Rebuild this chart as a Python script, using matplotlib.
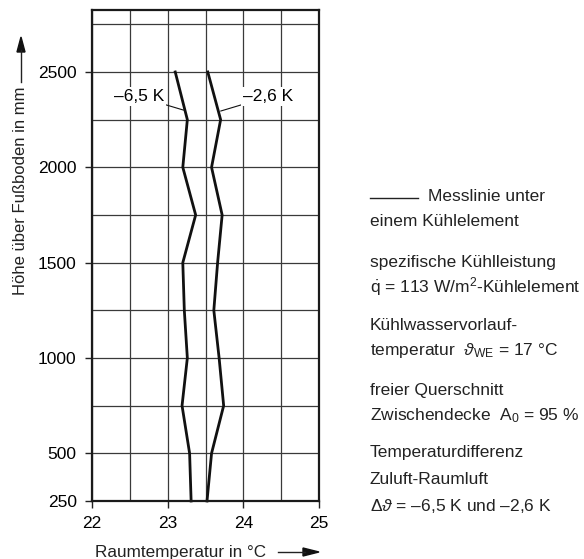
import numpy as np
import matplotlib.pyplot as plt
from matplotlib.ticker import MultipleLocator

plt.rcParams["font.family"] = ["Liberation Sans", "DejaVu Sans"]
plt.rcParams["mathtext.fontset"] = "custom"
plt.rcParams["mathtext.rm"] = "Liberation Sans"
plt.rcParams["mathtext.it"] = "Liberation Sans:italic"

# Messwerte
hoehe = [250, 500, 750, 1000, 1250, 1500, 1750, 2000, 2250, 2500]
t_65 = [23.31, 23.29, 23.19, 23.26, 23.22, 23.20, 23.37, 23.20, 23.26, 23.10]
t_26 = [23.52, 23.58, 23.74, 23.68, 23.61, 23.66, 23.72, 23.58, 23.70, 23.53]
xticks = [22, 23, 24, 25]
yticks = [250, 500, 1000, 1500, 2000, 2500]

W, H = 584, 559
fig = plt.figure(figsize=(W/100, H/100), dpi=100)
ax = fig.add_axes([92/W, (H-501)/H, 227/W, 491/H])

ax.set_xlim(22, 25)
ax.set_ylim(250, 2825)
ax.xaxis.set_minor_locator(MultipleLocator(0.5))
ax.yaxis.set_minor_locator(MultipleLocator(250))
ax.set_xticks(xticks)
ax.set_yticks(yticks)
ax.grid(which="both", color="#3a3a3a", lw=0.9)
ax.tick_params(which="minor", length=0)
ax.tick_params(which="major", length=5, width=1, labelsize=12.5, pad=6, color="#222")
for s in ax.spines.values():
    s.set_linewidth(1.6)
    s.set_color("#1a1a1a")
ax.set_axisbelow(True)

ax.plot(t_65, hoehe, color="#111", lw=2, clip_on=False)
ax.plot(t_26, hoehe, color="#111", lw=2, clip_on=False)

box = dict(facecolor="white", edgecolor="none", pad=1.5)
ax.annotate("–6,5 K", xy=(23.21, 2300), xytext=(22.62, 2370), fontsize=12.5,
            ha="center", va="center", bbox=box,
            arrowprops=dict(arrowstyle="-", lw=0.8, color="#111", shrinkA=0, shrinkB=0))
ax.annotate("–2,6 K", xy=(23.70, 2295), xytext=(24.33, 2370), fontsize=12.5,
            ha="center", va="center", bbox=box,
            arrowprops=dict(arrowstyle="-", lw=0.8, color="#111", shrinkA=0, shrinkB=0))

# Achsenbeschriftungen mit Pfeilen
fig.text(21/W, 1-191/H, "Höhe über Fußboden in mm", rotation=90, ha="center",
         va="center", fontsize=12, color="#222")
fig.add_artist(plt.Line2D([21/W, 21/W], [1-82/H, 1-50/H], color="#222", lw=1))
fig.patches.append(plt.Polygon([[21/W, 1-37/H], [17/W, 1-52/H], [25/W, 1-52/H]],
                               closed=True, color="#111", transform=fig.transFigure))
fig.text(181/W, 1-552/H, "Raumtemperatur in °C", ha="center", va="center",
         fontsize=12.3, color="#222")
fig.add_artist(plt.Line2D([278/W, 305/W], [1-552/H, 1-552/H], color="#222", lw=1))
fig.patches.append(plt.Polygon([[319/W, 1-552/H], [303/W, 1-548/H], [303/W, 1-556/H]],
                               closed=True, color="#111", transform=fig.transFigure))

# Legende / Randbedingungen
fs = 12.5
x0 = 370/W
fig.add_artist(plt.Line2D([x0, 418/W], [1-198/H, 1-198/H], color="#222", lw=1))
fig.text(428/W, 1-196/H, "Messlinie unter", fontsize=fs, va="center", color="#222")
fig.text(x0, 1-222/H, "einem Kühlelement", fontsize=fs, va="center", color="#222")
zeilen = [
    (262, "spezifische Kühlleistung"),
    (287, r"$\dot{\mathrm{q}}$ = 113 W/m$^{2}$-Kühlelement"),
    (326, "Kühlwasservorlauf-"),
    (351, r"temperatur  $\vartheta_{\mathrm{WE}}$ = 17 °C"),
    (390, "freier Querschnitt"),
    (416, r"Zwischendecke  A$_{0}$ = 95 %"),
    (453, "Temperaturdifferenz"),
    (479, "Zuluft-Raumluft"),
    (506, r"$\Delta\vartheta$ = –6,5 K und –2,6 K"),
]
for y, t in zeilen:
    fig.text(x0, 1-y/H, t, fontsize=fs, va="center", color="#222")

fig.savefig("out.png", dpi=100)
